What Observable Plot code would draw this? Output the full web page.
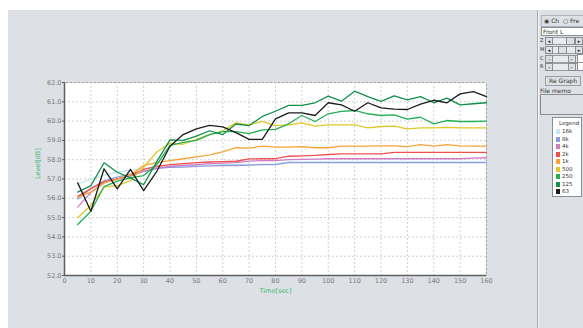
<!DOCTYPE html>
<html><head><meta charset="utf-8">
<script src="https://cdn.jsdelivr.net/npm/d3@7"></script>
<script src="https://cdn.jsdelivr.net/npm/@observablehq/plot@0.6"></script>
<style>
body{margin:0;width:583px;height:328px;overflow:hidden;background:#fff;font-family:"DejaVu Sans",sans-serif;position:relative}
.abs{position:absolute}
#bg{left:8px;top:10px;width:575px;height:318px;background:#dde0e4}
#sep{left:537px;top:10px;width:1px;height:318px;background:#a8abb0;border-right:1px solid #f4f5f6}
#chart{left:0;top:0}
.t{font-size:6px;color:#333;white-space:nowrap}
.box{background:#fff;border:1px solid #8a8d92}
.sb{height:6px;background:#e8eaec;border:1px solid #9a9da2}
.btn{width:6px;height:6px;background:#dde0e4;border:1px solid #8a8d92;font-size:5px;line-height:6px;text-align:center;color:#333}
.thumb{width:7px;height:6px;background:#dde0e4;border:1px solid #8a8d92}
</style></head>
<body>
<div id="bg" class="abs"></div>
<div id="sep" class="abs"></div>
<div id="chart" class="abs"></div>
<div id="panel"></div>
<script>
const times = [5,10,15,20,25,30,35,40,45,50,55,60,65,70,75,80,85,90,95,100,105,110,115,120,125,130,135,140,145,150,155,160];
const bands = ["16k","8k","4k","2k","1k","500","250","125","63"];
const bandColors = ["#c4e8f6","#8e9dd8","#d07cc4","#ee5050","#f7a436","#e0c826","#22b052","#10904a","#1c1c1c"];
const s16k = [56.75,57.0,57.2,57.35,57.45,57.55,57.62,57.68,57.7,57.72,57.72,57.73,57.74,57.75,57.76,57.78,57.88,57.88,57.88,57.88,57.88,57.88,57.88,57.88,57.88,57.88,57.88,57.88,57.88,57.88,57.88,57.88];
const s8k = [55.97,56.5,56.9,57.1,57.25,57.4,57.55,57.6,57.62,57.65,57.68,57.7,57.7,57.72,57.75,57.75,57.85,57.85,57.85,57.85,57.85,57.85,57.85,57.85,57.85,57.85,57.85,57.85,57.85,57.85,57.85,57.85];
const s4k = [55.54,56.3,56.8,57.0,57.15,57.4,57.55,57.65,57.7,57.75,57.8,57.82,57.85,57.93,57.95,57.95,58.0,58.02,58.03,58.05,58.05,58.05,58.05,58.05,58.05,58.05,58.05,58.05,58.05,58.05,58.08,58.1];
const s2k = [56.1,56.5,56.85,57.0,57.2,57.5,57.65,57.75,57.8,57.85,57.88,57.9,57.92,58.04,58.05,58.05,58.18,58.2,58.22,58.27,58.3,58.3,58.3,58.3,58.38,58.38,58.38,58.38,58.38,58.38,58.38,58.38];
const s1k = [56.06,56.32,56.8,57.0,57.2,57.7,57.85,57.95,58.05,58.15,58.25,58.4,58.62,58.6,58.7,58.65,58.65,58.68,58.62,58.62,58.7,58.7,58.7,58.72,58.72,58.68,58.78,58.7,58.78,58.72,58.7,58.7];
const s500 = [54.99,55.63,56.58,56.66,56.92,57.61,58.4,58.85,58.8,59.05,59.3,59.5,59.91,59.8,59.98,59.77,59.8,59.91,59.74,59.8,59.8,59.8,59.65,59.72,59.74,59.6,59.65,59.65,59.68,59.65,59.65,59.65];
const s250 = [54.64,55.33,56.61,56.89,57.06,57.18,57.75,58.74,58.9,59.0,59.3,59.45,59.45,59.35,59.55,59.57,59.86,60.29,59.98,60.38,60.5,60.55,60.38,60.29,60.32,60.1,60.2,59.86,60.03,59.98,59.98,60.0];
const s125 = [56.32,56.66,57.84,57.35,57.06,56.7,57.9,59.03,59.0,59.22,59.5,59.3,59.85,59.77,60.24,60.51,60.81,60.81,60.95,61.29,61.03,61.55,61.27,61.02,61.31,61.1,61.27,60.95,61.19,60.84,60.9,60.95];
const s63 = [56.8,55.33,57.53,56.49,57.5,56.4,57.4,58.7,59.3,59.6,59.78,59.7,59.4,59.05,59.05,60.12,60.43,60.43,60.29,60.95,60.84,60.51,60.95,60.69,60.62,60.6,60.88,61.08,60.95,61.41,61.53,61.27];
const xTicks = [0,10,20,30,40,50,60,70,80,90,100,110,120,130,140,150,160];
const yTicks = [52,53,54,55,56,57,58,59,60,61,62];
const xTitle = "Time[sec]";
const yTitle = "Level[dB]";
const titleColor = "#3cb878";

const seriesVals = [s16k,s8k,s4k,s2k,s1k,s500,s250,s125,s63];
const rows = [];
bands.forEach((b,i)=>seriesVals[i].forEach((v,j)=>rows.push({band:b,t:times[j],v})));

const plot = Plot.plot({
  width:537, height:328,
  marginLeft:64, marginRight:51, marginTop:82, marginBottom:53,
  style:{background:"transparent", fontFamily:"DejaVu Sans, sans-serif", fontSize:"6.5px", color:"#7a7a7a"},
  x:{domain:[0,160], ticks:xTicks, label:null},
  y:{domain:[52,62], ticks:yTicks, label:null, tickFormat:d3.format(".1f")},
  color:{domain:bands, range:bandColors},
  marks:[
    Plot.frame({fill:"white", stroke:"#a0a0a0"}),
    Plot.gridX(xTicks,{stroke:"#d0d0d0", strokeOpacity:1, strokeDasharray:"2,2"}),
    Plot.gridY(yTicks,{stroke:"#d0d0d0", strokeOpacity:1, strokeDasharray:"2,2"}),
    Plot.ruleX([0],{stroke:"#606060", strokeWidth:1.5}),
    Plot.ruleY([52],{stroke:"#606060", strokeWidth:1.5}),
    Plot.axisX(xTicks,{tickSize:0, tickPadding:3, tickFormat:d=>String(d)}),
    Plot.axisY(yTicks,{tickSize:2, tickPadding:1, stroke:"#606060", tickFormat:d3.format(".1f")}),
    Plot.line(rows,{x:"t", y:"v", z:"band", stroke:"band", strokeWidth:1.3}),
    Plot.text([yTitle],{frameAnchor:"left", dx:-27, rotate:-90, fill:titleColor, fontSize:6.5}),
    Plot.text([xTitle],{frameAnchor:"bottom", dy:17, fill:titleColor, fontSize:6.5})
  ]
});
document.getElementById("chart").appendChild(plot);

// right control panel
const p = document.getElementById("panel");
function add(html){p.insertAdjacentHTML("beforeend",html);}
add(`<div class="abs" style="left:541px;top:15px;width:50px;height:10px;border:1px solid #b0b3b8;border-right:none"></div>`);
add(`<div class="abs t" style="left:544px;top:17px">&#9673; Ch&nbsp;&nbsp;&#9675; Fre</div>`);
add(`<div class="abs box t" style="left:541px;top:27px;width:50px;height:7px;line-height:7px;padding-left:1px">Front L</div>`);
const sl = [["Z",37,566,true],["M",46,558,true],["C",55,null,false],["R",63,null,false]];
sl.forEach(([l,y,th,en])=>{
  add(`<div class="abs t" style="left:540px;top:${y}px;font-size:5px">${l}</div>`);
  add(`<div class="abs sb" style="left:545px;top:${y}px;width:31px"></div>`);
  add(`<div class="abs btn" style="left:545px;top:${y}px;color:${en?'#222':'#aaa'}">&#9666;</div>`);
  add(`<div class="abs btn" style="left:${en?575:568}px;top:${y}px;color:${en?'#222':'#aaa'}">&#9656;</div>`);
  if(th) add(`<div class="abs thumb" style="left:${th}px;top:${y}px"></div>`);
  else add(`<div class="abs box" style="left:577px;top:${y-1}px;width:10px;height:7px"></div>`);
});
add(`<div class="abs t" style="left:545px;top:76px;width:34px;height:8px;line-height:8px;text-align:center;background:#dde0e4;border:1px solid #9a9da2">Re Graph</div>`);
add(`<div class="abs t" style="left:540px;top:87px">File memo</div>`);
add(`<div class="abs" style="left:540px;top:94px;width:45px;height:19px;border:1px solid #8a8d92;background:#dde0e4"></div>`);
let leg = `<div class="abs box" style="left:552px;top:117px;width:28px;height:78px"><div class="t" style="position:absolute;left:6px;top:2px;font-size:5.5px">Legend</div>`;
bands.forEach((b,i)=>{
  leg += `<div style="position:absolute;left:3px;top:${11+i*7.5}px;width:4px;height:5px;background:${bandColors[i]}"></div>`;
  leg += `<div class="t" style="position:absolute;left:9px;top:${10+i*7.5}px;font-size:5.5px">${b}</div>`;
});
leg += `</div>`;
add(leg);
</script>
</body></html>
